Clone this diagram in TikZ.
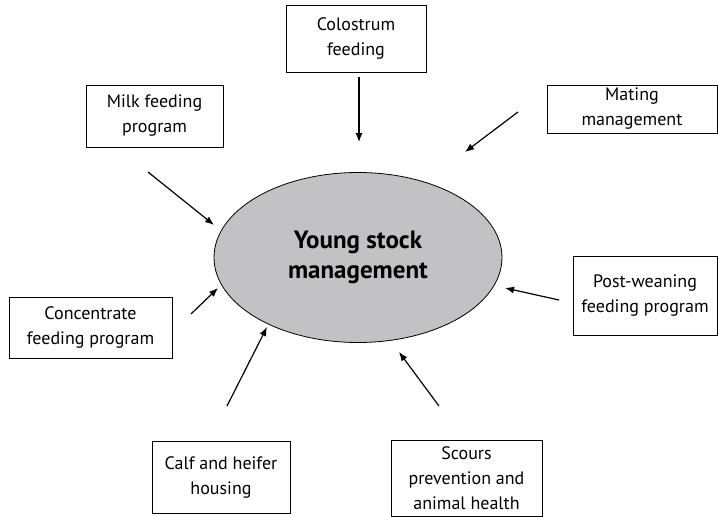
\documentclass[tikz,border=0pt]{standalone}
\usepackage{fontspec}
\setmainfont{PT Sans}
\usetikzlibrary{arrows.meta,shapes.geometric}
\definecolor{ellgray}{RGB}{194,194,196}
\begin{document}
\begin{tikzpicture}[x=1pt,y=-1pt,
  box/.style={draw=black,line width=1pt,rectangle,inner sep=0pt,align=center,
    font=\fontsize{18}{25}\selectfont},
  arr/.style={line width=1.2pt,-{Latex[length=9pt,width=7pt]}}]
\useasboundingbox (0,0) rectangle (718,517);
% central ellipse
\node[ellipse,draw=black,line width=0.8pt,fill=ellgray,minimum width=288pt,minimum height=170pt,
  inner sep=0pt,align=center,font=\fontsize{25}{30}\selectfont\bfseries] (c) at (358,257.5)
  {Young stock\\management};
% boxes
\node[box,minimum width=140pt,minimum height=67pt] (colo) at (356,38.5) {Colostrum\\feeding};
\node[box,minimum width=170pt,minimum height=48pt] (mate) at (632,109) {Mating\\management};
\node[box,minimum width=137pt,minimum height=62pt] (milk) at (154.5,116) {Milk feeding\\program};
\node[box,minimum width=163pt,minimum height=61pt] (conc) at (90.5,327.5) {Concentrate\\feeding program};
\node[box,minimum width=144pt,minimum height=79pt] (post) at (645,295.5) {Post-weaning\\feeding program};
\node[box,minimum width=138pt,minimum height=72pt] (calf) at (221,477) {Calf and heifer\\housing};
\node[box,minimum width=151pt,minimum height=76pt] (scou) at (466.5,478) {Scours\\prevention and\\animal health};
% arrow end points
\coordinate (colos) at (359,77);   \coordinate (coloe) at (359,142);
\coordinate (mates) at (518,112);  \coordinate (matee) at (465,152);
\coordinate (milks) at (148,172);  \coordinate (milke) at (214,225);
\coordinate (concs) at (191,314);  \coordinate (conce) at (218,288);
\coordinate (posts) at (559,300);  \coordinate (poste) at (505,288);
\coordinate (calfs) at (227,406);  \coordinate (calfe) at (267,327);
\coordinate (scous) at (439,406);  \coordinate (scoue) at (399,352);
\draw[arr] (colos) -- (coloe);
\draw[arr] (mates) -- (matee);
\draw[arr] (milks) -- (milke);
\draw[arr] (concs) -- (conce);
\draw[arr] (posts) -- (poste);
\draw[arr] (calfs) -- (calfe);
\draw[arr] (scous) -- (scoue);
\end{tikzpicture}
\end{document}
